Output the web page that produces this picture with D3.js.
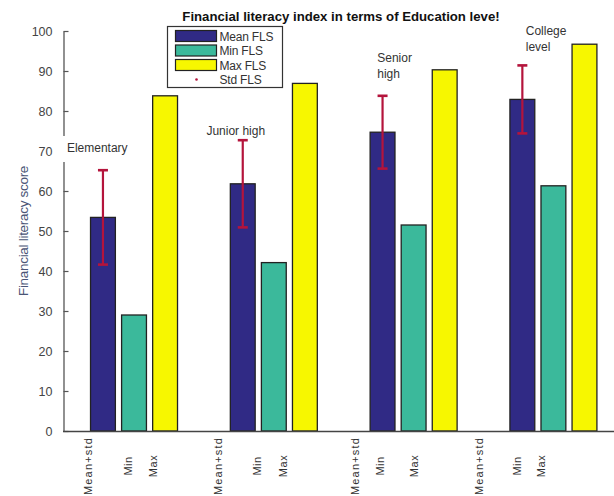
<!DOCTYPE html>
<html><head><meta charset="utf-8">
<script src="https://cdn.jsdelivr.net/npm/d3@7/dist/d3.min.js"></script>
<style>html,body{margin:0;padding:0;background:#fff;}svg{display:block;}</style>
</head><body><svg id="c" width="614" height="496"></svg>
<script>
// ---- data ----
const categories = ["Elementary", "Junior high", "Senior high", "College level"];
const categoryLines = [["Elementary"], ["Junior high"], ["Senior", "high"], ["College", "level"]];
const meanFLS = [53.4, 61.8, 74.7, 82.9];
const stdFLS = [11.8, 10.9, 9.1, 8.5];
const minFLS = [29.0, 42.1, 51.5, 61.3];
const maxFLS = [83.8, 86.9, 90.3, 96.7];
const barLabels = ["Mean+std", "Min", "Max"];
const yTicks = [0, 10, 20, 30, 40, 50, 60, 70, 80, 90, 100];
const seriesNames = ["Mean FLS", "Min FLS", "Max FLS", "Std FLS"];

// ---- layout (data units of the x scale) ----
const groupStep = 4.5;
const tickLabelPos = [[-0.47, 0.82, 1.62], [3.71, 4.97, 5.80], [8.10, 8.92, 10.02], [12.11, 13.33, 14.10]];
const annotPos = [[-1.16, 69.75], [3.33, 74.0], [8.83, 92.3], [13.61, 99.0]];

const colors = {mean: "#302a85", min: "#3bb99b", max: "#f7f700", std: "#b4143c"};

const svg = d3.select("#c");
const x = d3.scaleLinear().domain([-1.27, 16.45]).range([63.5, 614]);
const y = d3.scaleLinear().domain([0, 100]).range([431, 31]);
const bw = x(0.8) - x(0);

// title
svg.append("text").attr("x", 341).attr("y", 21).attr("text-anchor", "middle")
  .attr("font-family", "Liberation Sans, Arial, sans-serif").attr("font-weight", "bold")
  .attr("font-size", 13.2).attr("fill", "#111")
  .text("Financial literacy index in terms of Education leve!");

// y label
svg.append("text").attr("transform", "translate(28,231) rotate(-90)").attr("text-anchor", "middle")
  .attr("font-family", "Liberation Sans, Arial, sans-serif").attr("font-size", 13.5)
  .attr("fill", "#4a5576").attr("letter-spacing", -0.3).text("Financial literacy score");

// bars
const series = [
  {key: "mean", vals: meanFLS, off: 0},
  {key: "min", vals: minFLS, off: 1},
  {key: "max", vals: maxFLS, off: 2}
];
series.forEach(s => {
  svg.append("g").selectAll("rect").data(s.vals).join("rect")
    .attr("x", (d, i) => x(i * groupStep + s.off) - bw / 2)
    .attr("y", d => y(d))
    .attr("width", bw)
    .attr("height", d => y(0) - y(d))
    .attr("fill", colors[s.key])
    .attr("stroke", "#222").attr("stroke-width", 1.3);
});

// error bars
const eg = svg.append("g").attr("stroke", colors.std).attr("stroke-width", 2.2);
meanFLS.forEach((m, i) => {
  const cx = x(i * groupStep);
  eg.append("line").attr("x1", cx).attr("x2", cx).attr("y1", y(m - stdFLS[i])).attr("y2", y(m + stdFLS[i]));
  [m - stdFLS[i], m + stdFLS[i]].forEach(v => {
    eg.append("line").attr("x1", cx - 5).attr("x2", cx + 5).attr("y1", y(v)).attr("y2", y(v)).attr("stroke-width", 2.6);
  });
});

// axes
const ya = svg.append("g").attr("transform", "translate(63.5,0)")
  .call(d3.axisLeft(y).tickValues(yTicks).tickSize(-5).tickSizeOuter(0).tickPadding(11));
ya.select(".domain").attr("stroke", "#555").attr("stroke-width", 1.3);
ya.selectAll(".tick line").attr("stroke", "#555").attr("stroke-width", 1.2);
ya.selectAll(".tick text").attr("font-family", "Liberation Sans, Arial, sans-serif")
  .attr("font-size", 12.5).attr("fill", "#444");

svg.append("line").attr("x1", 63).attr("x2", 614).attr("y1", y(0) + 0.5).attr("y2", y(0) + 0.5)
  .attr("stroke", "#444").attr("stroke-width", 1.5);

// bottom rotated labels
tickLabelPos.forEach(arr => arr.forEach((p, j) => {
  svg.append("text").attr("transform", `translate(${x(p) + 4},${466}) rotate(-90)`)
    .attr("text-anchor", "middle").attr("font-family", "Liberation Sans, Arial, sans-serif")
    .attr("font-size", 11).attr("fill", "#333")
    .attr("letter-spacing", j === 0 ? 1.2 : 0.5).text(barLabels[j]);
}));

// category annotations
categoryLines.forEach((lines, i) => {
  const [px, py] = annotPos[i];
  const t = svg.append("g");
  if (i === 0) {
    t.append("rect").attr("x", x(px) - 7).attr("y", y(py) - 16).attr("width", 80).attr("height", 26).attr("fill", "#fff");
  }
  lines.forEach((ln, k) => {
    t.append("text").attr("x", x(px)).attr("y", y(py) + k * 16)
      .attr("font-family", "Liberation Sans, Arial, sans-serif").attr("font-size", 12)
      .attr("fill", "#333").text(ln);
  });
});

// legend
const lg = svg.append("g").attr("transform", "translate(167.5,26.5)");
lg.append("rect").attr("width", 115).attr("height", 61).attr("fill", "#fff").attr("stroke", "#333").attr("stroke-width", 1.2);
const lc = [colors.mean, colors.min, colors.max];
seriesNames.forEach((n, i) => {
  const cy = 9.5 + i * 14.5;
  if (i < 3) {
    lg.append("rect").attr("x", 8).attr("y", cy - 5.5).attr("width", 41).attr("height", 11)
      .attr("fill", lc[i]).attr("stroke", "#222").attr("stroke-width", 1.2);
  } else {
    lg.append("circle").attr("cx", 29).attr("cy", cy).attr("r", 1.3).attr("fill", colors.std);
  }
  lg.append("text").attr("x", 52).attr("y", cy + 4.5).attr("font-family", "Liberation Sans, Arial, sans-serif")
    .attr("font-size", 12).attr("fill", "#333").attr("letter-spacing", -0.2).text(n);
});
</script></body></html>
